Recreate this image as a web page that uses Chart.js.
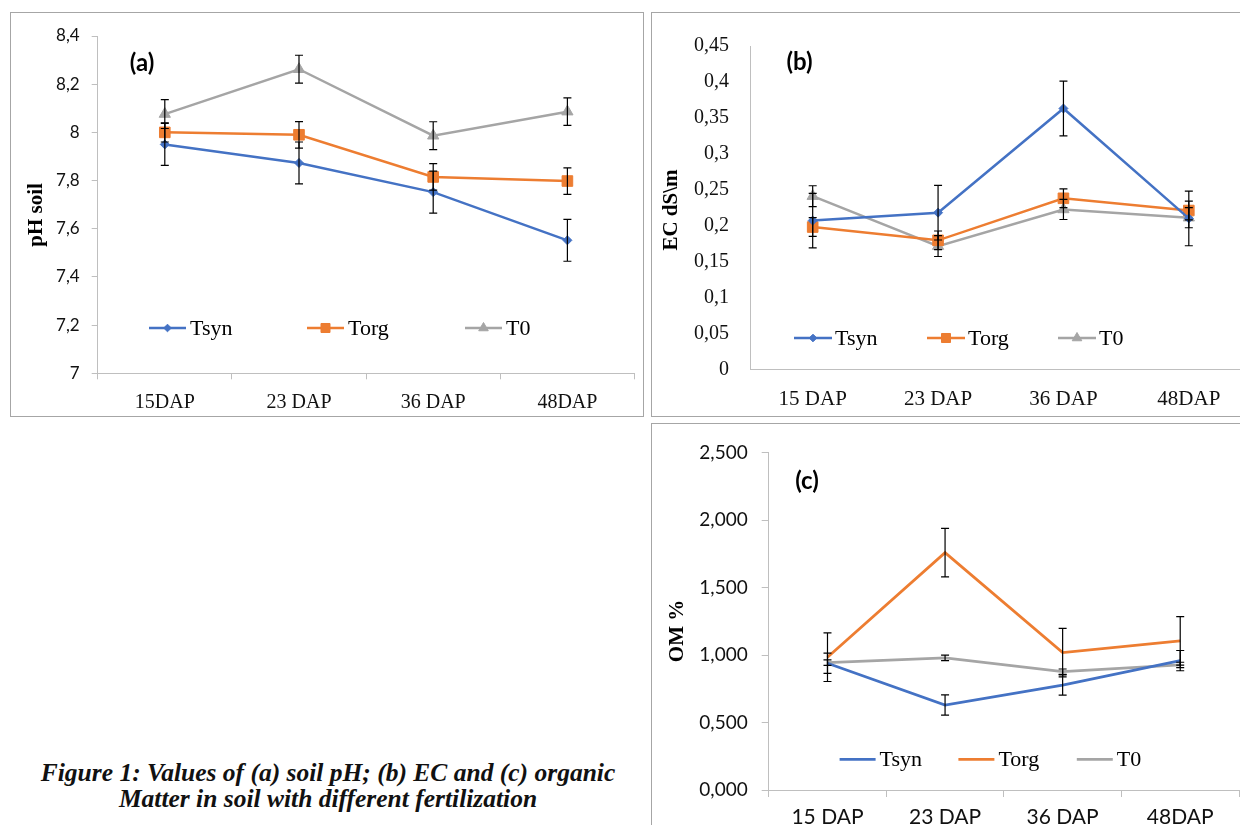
<!DOCTYPE html>
<html>
<head>
<meta charset="utf-8">
<script src="https://cdn.jsdelivr.net/npm/chart.js@4.4.1/dist/chart.umd.min.js"></script>
<style>
  html, body { margin: 0; padding: 0; background: #fff; width: 1240px; height: 825px; overflow: hidden; }
  .panel { position: absolute; border: 1px solid #a6a6a6; background: #fff; }
  .panel canvas { display: block; }
  #caption {
    position: absolute; left: 10px; top: 760px; width: 636px;
    text-align: center; font: italic bold 25.5px/26px "Liberation Serif", serif; color: #111;
  }
</style>
</head>
<body>
<div class="panel" style="left:10px;top:12px;width:632px;height:403px"><canvas id="chartA" width="632" height="403"></canvas></div>
<div class="panel" style="left:651px;top:12px;width:608px;height:403px"><canvas id="chartB" width="608" height="403"></canvas></div>
<div class="panel" style="left:651px;top:423px;width:608px;height:418px"><canvas id="chartC" width="608" height="418"></canvas></div>
<div id="caption">Figure 1: Values of (a) soil pH; (b) EC and (c) organic<br>Matter in soil with different fertilization</div>

<script>
// ===== Datos =====
const catsA = ["15DAP", "23 DAP", "36 DAP", "48DAP"];
const catsBC = ["15 DAP", "23 DAP", "36 DAP", "48DAP"];
const seriesNames = ["Tsyn", "Torg", "T0"];

// (a) pH suelo
const phTicks = ["7", "7,2", "7,4", "7,6", "7,8", "8", "8,2", "8,4"];
const phTsyn = [7.95, 7.873, 7.752, 7.552];
const phTorg = [8.0, 7.99, 7.815, 7.798];
const phT0 = [8.076, 8.262, 7.986, 8.086];
const phTsynErr = [0.087, 0.087, 0.087, 0.087];
const phTorgErr = [0.04, 0.055, 0.055, 0.055];
const phT0Err = [0.06, 0.058, 0.058, 0.057];

// (b) EC dS/m
const ecTicks = ["0", "0,05", "0,1", "0,15", "0,2", "0,25", "0,3", "0,35", "0,4", "0,45"];
const ecTsyn = [0.207, 0.218, 0.363, 0.210];
const ecTorg = [0.198, 0.1795, 0.238, 0.221];
const ecT0 = [0.241, 0.1715, 0.2225, 0.211];
const ecTsynErr = [0.038, 0.038, 0.038, 0.038];
const ecTorgErr = [0.013, 0.013, 0.013, 0.013];
const ecT0Err = [0.0145, 0.0145, 0.014, 0.014];

// (c) materia orgánica
const omTicks = ["0,000", "0,500", "1,000", "1,500", "2,000", "2,500"];
const omTsyn = [0.939, 0.630, 0.778, 0.959];
const omTorg = [0.984, 1.759, 1.018, 1.105];
const omT0 = [0.944, 0.979, 0.877, 0.927];
const omTsynErr = [0.075, 0.075, 0.075, 0.075];
const omTorgErr = [0.18, 0.18, 0.18, 0.18];
const omT0Err = [0.02, 0.02, 0.02, 0.02];

const colores = ["#4472C4", "#ED7D31", "#A5A5A5"];
const formas = ["rectRot", "rect", "triangle"];
const radios = [4.5, 7.5, 6.5];

const SERIF = '"Liberation Serif", serif';
const SANS = 'Lato, sans-serif';

// ===== Plugin: barras de error, etiqueta, título de eje, leyenda =====
const decoPlugin = {
  id: "deco",
  afterDatasetsDraw(chart, args, o) {
    const ctx = chart.ctx;
    const xs = chart.scales.x, ys = chart.scales.y;
    ctx.save();
    ctx.strokeStyle = "#000";
    ctx.lineWidth = 1.2;
    chart.data.datasets.forEach(ds => {
      ds.errs.forEach((e, i) => {
        const x = xs.getPixelForValue(i);
        const y1 = ys.getPixelForValue(ds.data[i] + e);
        const y2 = ys.getPixelForValue(ds.data[i] - e);
        ctx.beginPath();
        ctx.moveTo(x, y1); ctx.lineTo(x, y2);
        ctx.moveTo(x - 4, y1); ctx.lineTo(x + 4, y1);
        ctx.moveTo(x - 4, y2); ctx.lineTo(x + 4, y2);
        ctx.stroke();
      });
    });
    ctx.restore();
  },
  afterDraw(chart, args, o) {
    const ctx = chart.ctx;
    ctx.save();
    // etiqueta del panel
    ctx.fillStyle = "#000";
    ctx.font = "bold 24px " + SANS;
    ctx.textAlign = "center";
    ctx.textBaseline = "middle";
    ctx.fillText(o.tag, o.tagX, o.tagY);
    // título del eje Y
    ctx.save();
    ctx.translate(o.titleX, o.titleY);
    ctx.rotate(-Math.PI / 2);
    ctx.font = "bold 21px " + SERIF;
    ctx.fillText(o.title, 0, 0);
    ctx.restore();
    // leyenda
    chart.data.datasets.forEach((ds, k) => {
      const x0 = o.legendX[k], y = o.legendY;
      ctx.strokeStyle = ds.borderColor;
      ctx.lineWidth = ds.borderWidth;
      ctx.beginPath();
      ctx.moveTo(x0, y); ctx.lineTo(x0 + o.lineLen, y);
      ctx.stroke();
      if (ds.pointRadius > 0) {
        ctx.fillStyle = ds.borderColor;
        ctx.lineWidth = 1;
        Chart.helpers.drawPoint(ctx, { pointStyle: ds.pointStyle, radius: ds.pointRadius * 0.85, rotation: 0, borderWidth: 1 }, x0 + o.lineLen / 2, y);
      }
      ctx.fillStyle = "#000";
      ctx.font = "22px " + SERIF;
      ctx.textAlign = "left";
      ctx.textBaseline = "middle";
      ctx.fillText(ds.label, x0 + o.lineLen + o.gap, y + 1);
    });
    ctx.restore();
  }
};

function series(values, errs, markers, width) {
  return values.map((v, k) => ({
    label: seriesNames[k],
    data: v,
    errs: errs[k],
    borderColor: colores[k],
    backgroundColor: colores[k],
    borderWidth: width,
    pointStyle: formas[k],
    pointRadius: markers ? radios[k] : 0,
    pointBorderWidth: 1,
    tension: 0
  }));
}

function crearGrafica(id, p) {
  return new Chart(document.getElementById(id), {
    type: "line",
    data: { labels: p.cats, datasets: p.datasets },
    plugins: [decoPlugin],
    options: {
      responsive: false,
      animation: false,
      layout: { padding: { top: p.top, right: p.right, left: 0, bottom: 0 } },
      plugins: { legend: { display: false }, tooltip: { enabled: false }, deco: p.deco },
      scales: {
        x: {
          offset: true,
          grid: { offset: true, drawOnChartArea: false, drawTicks: p.xTick > 0, tickLength: p.xTick, color: "#bfbfbf" },
          border: { color: "#bfbfbf" },
          ticks: { padding: p.xPad, color: "#111", font: p.xFont, maxRotation: 0, autoSkip: false },
          afterFit: s => { s.height = p.xHeight; }
        },
        y: {
          min: p.min, max: p.max,
          grid: { drawOnChartArea: false, drawTicks: p.yTick > 0, tickLength: p.yTick, color: "#bfbfbf" },
          border: { color: "#bfbfbf" },
          ticks: { stepSize: p.step, padding: p.yPad, color: "#111", font: p.yFont, autoSkip: false,
                   callback: (v, i) => p.tickLabels[i] },
          afterFit: s => { s.width = p.yWidth; }
        }
      }
    }
  });
}

// ===== (a) =====
crearGrafica("chartA", {
  cats: catsA,
  datasets: series([phTsyn, phTorg, phT0], [phTsynErr, phTorgErr, phT0Err], true, 2.5),
  min: 7, max: 8.4, step: 0.2, tickLabels: phTicks,
  top: 23, right: 0, yWidth: 86.7, xHeight: 42.7,
  xTick: 6, yTick: 6, xPad: 11, yPad: 12,
  xFont: { family: SERIF, size: 20 },
  yFont: { family: SANS, size: 17 },
  deco: { tag: "(a)", tagX: 131, tagY: 50, title: "pH soil", titleX: 26, titleY: 202,
          legendX: [138, 296, 454], legendY: 315, lineLen: 37, gap: 4 }
});

// ===== (b) =====
crearGrafica("chartB", {
  cats: catsBC,
  datasets: series([ecTsyn, ecTorg, ecT0], [ecTsynErr, ecTorgErr, ecT0Err], true, 2.5),
  min: 0, max: 0.45, step: 0.05, tickLabels: ecTicks,
  top: 16, right: 6, yWidth: 98, xHeight: 403 - 356.3,
  xTick: 0, yTick: 0, xPad: 18, yPad: 21,
  xFont: { family: SERIF, size: 21 },
  yFont: { family: SERIF, size: 20 },
  deco: { tag: "(b)", tagX: 147.5, tagY: 49.5, title: "EC dS\\m", titleX: 19.5, titleY: 197,
          legendX: [142, 275, 406], legendY: 325, lineLen: 38, gap: 3 }
});

// ===== (c) =====
crearGrafica("chartC", {
  cats: catsBC,
  datasets: series([omTsyn, omTorg, omT0], [omTsynErr, omTorgErr, omT0Err], false, 2.75),
  min: 0, max: 2.5, step: 0.5, tickLabels: omTicks,
  top: 28.7, right: 21, yWidth: 116.7, xHeight: 418 - 366,
  xTick: 7, yTick: 7, xPad: 8, yPad: 14,
  xFont: { family: SANS, size: 21 },
  yFont: { family: SANS, size: 19 },
  deco: { tag: "(c)", tagX: 155, tagY: 57, title: "OM %", titleX: 25.5, titleY: 207,
          legendX: [187.6, 306.4, 424.8], legendY: 335.3, lineLen: 36, gap: 4 }
});
</script>
</body>
</html>
